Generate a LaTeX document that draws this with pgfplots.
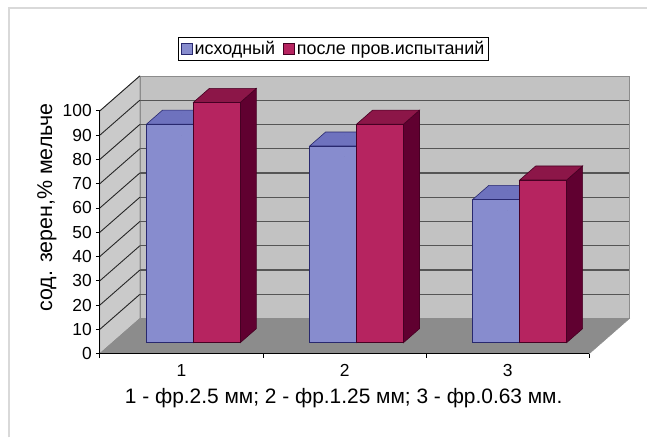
\documentclass[border=0pt]{standalone}
\usepackage{pgfplots}
\pgfplotsset{compat=1.18}
\usepackage{fontspec}
\setmainfont{Liberation Sans}
\definecolor{blueF}{RGB}{135,140,206}
\definecolor{blueT}{RGB}{110,114,190}
\definecolor{blueS}{RGB}{50,52,110}
\definecolor{blueE}{RGB}{40,40,110}
\definecolor{redF}{RGB}{182,36,96}
\definecolor{redT}{RGB}{140,22,72}
\definecolor{redS}{RGB}{96,0,48}
\definecolor{redE}{RGB}{70,0,35}
\definecolor{wallB}{RGB}{194,194,194}
\definecolor{wallL}{RGB}{202,202,202}
\definecolor{floorC}{RGB}{140,140,140}
\definecolor{gridC}{RGB}{85,85,85}
\pgfplotsset{
  bar3d/.style n args={5}{
    forget plot, only marks, mark=*, mark size=0pt, scatter,
    visualization depends on={rawy \as \val},
    scatter/@post marker code/.code={},
    scatter/@pre marker code/.code={%
      \pgfkeys{/pgf/fpu=false}%
      \pgfmathsetmacro\bb{11-2.43*\val}%
      \pgfmathsetmacro\bt{\bb+14}%
      \pgfmathsetmacro\xl{#1}%
      \pgfmathsetmacro\xr{#1+47}%
      \pgfmathsetmacro\xls{#1+16}%
      \pgfmathsetmacro\xrs{#1+63}%
      \filldraw[fill=#4, draw=#5, line width=0.6bp] (\xr bp,11bp) -- (\xrs bp,25bp) -- (\xrs bp,\bt bp) -- (\xr bp,\bb bp) -- cycle;
      \filldraw[fill=#3, draw=#5, line width=0.6bp] (\xl bp,11bp) -- (\xr bp,11bp) -- (\xrs bp,25bp) -- (\xls bp,25bp) -- cycle;
      \filldraw[fill=#2, draw=#5, line width=0.6bp] (\xl bp,\bb bp) rectangle (\xr bp,11bp);
    },
  },
}
\begin{document}
\begin{tikzpicture}
\path (0,0) rectangle (648bp,438bp);
\draw[black!15, line width=1.5bp] (9bp,0bp) -- (9bp,430bp) -- (648bp,430bp);
\begin{axis}[
  at={(100bp,84bp)}, anchor=south west,
  x=163.333bp, y=2.43bp,
  xmin=0.5, xmax=3.5, ymin=0, ymax=100,
  clip=false, axis on top,
  axis x line*=bottom, axis y line*=left,
  axis line style={black, line width=0.8bp, -},
  xtick={1,2,3}, xticklabels={1,2,3},
  major x tick style={draw=none},
  minor xtick={0.5,1.5,2.5,3.5},
  ytick={0,10,...,100},
  tick align=outside, major tick length=4bp, minor tick length=4bp,
  tick style={black, line width=0.8bp},
  /pgf/number format/assume math mode=true,
  yticklabel style={font=\fontsize{17.5}{17.5}\selectfont, inner sep=1bp, xshift=-3bp},
  xticklabel style={font=\fontsize{17.5}{17.5}\selectfont, inner sep=1bp, yshift=-6bp},
  ylabel={сод. зерен,\% мельче},
  ylabel style={at={(axis description cs:-0.108,0.602)}, anchor=center, font=\fontsize{21.5}{21.5}\selectfont},
  xlabel={1 - фр.2.5 мм; 2 - фр.1.25 мм; 3 - фр.0.63 мм.},
  xlabel style={at={(axis description cs:0.498,-0.184)}, anchor=center, font=\fontsize{21}{21}\selectfont},
  legend columns=2,
  legend style={at={(axis description cs:0.4775,1.255)}, anchor=center, draw=black, line width=0.8bp,
    font=\fontsize{18}{18}\selectfont, inner sep=2bp,
    /tikz/every even column/.append style={column sep=6bp}},
  legend cell align=left,
]
% back wall
\fill[wallB, draw=black!45, line width=0.6bp] ([shift={(40bp,35bp)}]axis cs:0.5,0) -- ([shift={(40bp,35bp)}]axis cs:3.5,0) -- ([shift={(40bp,35bp)}]axis cs:3.5,100) -- ([shift={(40bp,35bp)}]axis cs:0.5,100) -- cycle;
\pgfplotsinvokeforeach{10,20,...,90}{
  \draw[gridC, line width=1.2bp] ([shift={(40bp,35bp)}]axis cs:0.5,#1) -- ([shift={(40bp,35bp)}]axis cs:3.5,#1);
}
% left wall
\fill[wallL, draw=black!45, line width=0.6bp] (axis cs:0.5,0) -- ([shift={(40bp,35bp)}]axis cs:0.5,0) -- ([shift={(40bp,35bp)}]axis cs:0.5,100) -- (axis cs:0.5,100) -- cycle;
\pgfplotsinvokeforeach{10,20,...,100}{
  \draw[black!85, line width=0.9bp] (axis cs:0.5,#1) -- ([shift={(40bp,35bp)}]axis cs:0.5,#1);
}
% floor
\fill[floorC, draw=black!45, line width=0.6bp] (axis cs:0.5,0) -- (axis cs:3.5,0) -- ([shift={(40bp,35bp)}]axis cs:3.5,0) -- ([shift={(40bp,35bp)}]axis cs:0.5,0) -- cycle;

\addlegendimage{legend image code/.code={\draw[fill=blueF, draw=blueE, line width=0.8bp] (0bp,-5.5bp) rectangle (11bp,5.5bp);}}
\addlegendentry{исходный}
\addlegendimage{legend image code/.code={\draw[fill=redF, draw=redE, line width=0.8bp] (0bp,-5.5bp) rectangle (11bp,5.5bp);}}
\addlegendentry{после пров.испытаний}

\addplot[bar3d={-35}{blueF}{blueT}{blueS}{blueE}] coordinates {(1,90) (2,81) (3,59)};
\addplot[bar3d={12}{redF}{redT}{redS}{redE}] coordinates {(1,99) (2,90) (3,67)};
\end{axis}
\end{tikzpicture}
\end{document}
